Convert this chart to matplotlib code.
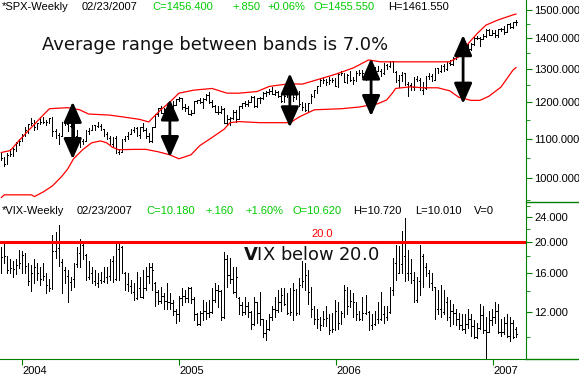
import matplotlib
matplotlib.use("Agg")
import matplotlib.pyplot as plt
import matplotlib.dates as mdates
from matplotlib.lines import Line2D
from matplotlib.ticker import FixedLocator, NullFormatter, FuncFormatter
import pandas as pd

# weekly bars, first week ending 2003-11-14, last 2007-02-23
first_week = "2003-11-14"

spx_open = [
    1059, 1050, 1036, 1058, 1061, 1074, 1088, 1095, 1108, 1122,
    1140, 1141, 1131, 1142, 1145, 1144, 1145, 1156, 1120, 1109,
    1108, 1141, 1139, 1134, 1140, 1107, 1098, 1095, 1093, 1121,
    1122, 1136, 1135, 1134, 1125, 1112, 1101, 1086, 1101, 1064,
    1065, 1099, 1107, 1113, 1123, 1128, 1110, 1131, 1122, 1108,
    1095, 1130, 1167, 1184, 1170, 1182, 1191, 1189, 1194, 1210,
    1212, 1186, 1184, 1167, 1171, 1203, 1206, 1201, 1211, 1222,
    1200, 1190, 1172, 1172, 1182, 1142, 1152, 1156, 1172, 1154,
    1190, 1198, 1196, 1201, 1216, 1191, 1212, 1212, 1228, 1229,
    1234, 1226, 1230, 1220, 1205, 1218, 1241, 1237, 1215, 1229,
    1196, 1187, 1178, 1198, 1220, 1235, 1249, 1268, 1265, 1259,
    1267, 1268, 1248, 1285, 1287, 1261, 1283, 1265, 1267, 1288,
    1289, 1287, 1282, 1307, 1302, 1295, 1295, 1289, 1312, 1311,
    1326, 1291, 1267, 1281, 1288, 1253, 1252, 1245, 1270, 1265,
    1236, 1241, 1278, 1280, 1267, 1302, 1295, 1311, 1299, 1320,
    1315, 1336, 1350, 1366, 1368, 1377, 1364, 1380, 1401, 1400,
    1397, 1409, 1427, 1410, 1418, 1410, 1431, 1430, 1423, 1449,
    1438, 1455.55,
]
spx_high = [
    1063, 1052, 1063, 1074, 1075, 1091, 1098, 1112, 1131, 1140,
    1155, 1150, 1143, 1158, 1158, 1151, 1157, 1159, 1125, 1115,
    1144, 1150, 1145, 1146, 1142, 1122, 1105, 1099, 1123, 1128,
    1137, 1138, 1146, 1140, 1127, 1119, 1108, 1104, 1108, 1073,
    1100, 1108, 1119, 1125, 1131, 1130, 1132, 1142, 1128, 1115,
    1131, 1167, 1185, 1189, 1183, 1197, 1192, 1204, 1211, 1217,
    1212, 1196, 1190, 1179, 1205, 1208, 1213, 1212, 1225, 1229,
    1207, 1193, 1189, 1191, 1184, 1163, 1159, 1178, 1178, 1191,
    1199, 1205, 1206, 1219, 1220, 1212, 1216, 1229, 1233, 1238,
    1245, 1236, 1234, 1224, 1221, 1242, 1243, 1238, 1229, 1233,
    1200, 1198, 1199, 1224, 1236, 1249, 1270, 1272, 1269, 1276,
    1274, 1274, 1287, 1295, 1289, 1286, 1294, 1275, 1294, 1297,
    1298, 1288, 1310, 1310, 1307, 1310, 1300, 1318, 1316, 1327,
    1326, 1294, 1282, 1290, 1289, 1260, 1258, 1275, 1280, 1273,
    1261, 1279, 1287, 1285, 1303, 1304, 1312, 1316, 1321, 1329,
    1340, 1353, 1366, 1372, 1390, 1382, 1384, 1403, 1407, 1404,
    1416, 1431, 1430, 1427, 1429, 1431, 1435, 1441, 1450, 1453,
    1457, 1461.55,
]
spx_low = [
    1045, 1031, 1036, 1055, 1055, 1068, 1084, 1094, 1106, 1116,
    1137, 1122, 1125, 1140, 1142, 1136, 1143, 1107, 1103, 1087,
    1108, 1136, 1121, 1131, 1107, 1095, 1079, 1085, 1093, 1112,
    1122, 1124, 1131, 1123, 1108, 1100, 1084, 1078, 1062, 1060,
    1064, 1094, 1100, 1111, 1118, 1107, 1103, 1120, 1102, 1090,
    1090, 1130, 1162, 1170, 1167, 1172, 1173, 1185, 1194, 1204,
    1180, 1175, 1167, 1163, 1170, 1197, 1198, 1184, 1206, 1199,
    1188, 1172, 1168, 1171, 1141, 1137, 1136, 1154, 1146, 1154,
    1185, 1190, 1191, 1200, 1188, 1188, 1197, 1211, 1219, 1225,
    1224, 1222, 1216, 1201, 1201, 1217, 1229, 1205, 1211, 1191,
    1177, 1176, 1176, 1198, 1215, 1227, 1248, 1258, 1252, 1255,
    1259, 1248, 1245, 1282, 1260, 1258, 1262, 1253, 1263, 1283,
    1277, 1268, 1282, 1295, 1291, 1294, 1280, 1285, 1300, 1306,
    1290, 1259, 1245, 1262, 1252, 1219, 1237, 1237, 1263, 1235,
    1224, 1239, 1270, 1262, 1266, 1289, 1290, 1295, 1296, 1312,
    1314, 1331, 1342, 1355, 1367, 1360, 1361, 1376, 1398, 1375,
    1396, 1405, 1410, 1410, 1403, 1405, 1424, 1416, 1420, 1436,
    1434, 1447,
]
spx_close = [
    1050, 1036, 1058, 1061, 1074, 1088, 1095, 1108, 1122, 1140,
    1141, 1131, 1142, 1145, 1144, 1145, 1156, 1120, 1109, 1108,
    1141, 1139, 1134, 1140, 1107, 1098, 1095, 1093, 1121, 1122,
    1136, 1135, 1134, 1125, 1112, 1101, 1086, 1101, 1064, 1065,
    1099, 1107, 1113, 1123, 1128, 1110, 1131, 1122, 1108, 1095,
    1130, 1167, 1184, 1170, 1182, 1191, 1189, 1194, 1210, 1212,
    1186, 1184, 1167, 1171, 1203, 1206, 1201, 1211, 1222, 1200,
    1190, 1172, 1172, 1182, 1142, 1152, 1156, 1172, 1154, 1190,
    1198, 1196, 1201, 1216, 1191, 1212, 1212, 1228, 1229, 1234,
    1226, 1230, 1220, 1205, 1218, 1241, 1237, 1215, 1229, 1196,
    1187, 1178, 1198, 1220, 1235, 1249, 1268, 1265, 1259, 1267,
    1268, 1248, 1285, 1287, 1261, 1283, 1265, 1267, 1288, 1289,
    1287, 1282, 1307, 1302, 1295, 1295, 1289, 1312, 1311, 1326,
    1291, 1267, 1281, 1288, 1253, 1252, 1245, 1270, 1265, 1236,
    1241, 1278, 1280, 1267, 1302, 1295, 1311, 1299, 1320, 1315,
    1336, 1350, 1366, 1368, 1377, 1364, 1380, 1401, 1400, 1397,
    1409, 1427, 1410, 1418, 1410, 1431, 1430, 1423, 1449, 1438,
    1455.55, 1456.4,
]

vix_open = [
    16.6, 17.9, 17.9, 16.3, 16.5, 16.4, 16.9, 17.1, 18.2, 16.8,
    15.0, 16.0, 16.6, 15.9, 15.3, 15.6, 14.6, 14.3, 18.7, 19.2,
    17.3, 16.3, 15.6, 14.9, 15.3, 17.0, 18.5, 19.5, 18.2, 15.5,
    16.0, 15.0, 14.8, 15.2, 15.0, 15.5, 15.6, 17.4, 15.3, 19.0,
    19.3, 16.0, 14.7, 14.5, 13.9, 13.3, 14.3, 13.4, 14.3, 15.6,
    16.6, 14.8, 13.9, 13.0, 13.5, 13.0, 12.9, 12.8, 12.1, 11.8,
    13.3, 13.5, 13.3, 14.3, 13.2, 11.8, 11.0, 11.9, 12.1, 11.9,
    12.0, 13.1, 14.1, 14.0, 11.6, 17.7, 15.7, 15.3, 13.9, 13.3,
    12.6, 12.0, 12.5, 12.0, 11.0, 12.9, 11.9, 11.4, 10.3, 10.6,
    11.6, 12.3, 12.2, 12.9, 13.6, 12.7, 11.9, 12.0, 14.1, 11.9,
    14.6, 15.0, 15.7, 13.9, 12.3, 11.4, 11.4, 10.9, 11.4, 11.5,
    10.5, 10.6, 12.1, 11.1, 11.9, 14.1, 12.5, 13.0, 12.9, 11.8,
    11.4, 11.9, 12.0, 10.9, 11.0, 11.4, 11.4, 11.8, 11.6, 12.0,
    14.1, 17.2, 16.0, 17.0, 18.0, 16.0, 15.9, 15.2, 13.1, 15.0,
    18.0, 16.6, 15.9, 14.8, 14.4, 12.3, 12.3, 12.0, 12.9, 11.6,
    12.1, 11.9, 11.4, 10.9, 10.6, 11.0, 11.4, 10.8, 10.0, 10.7,
    11.7, 10.5, 10.4, 11.3, 11.6, 12.1, 10.4, 10.4, 11.1, 10.1,
    11.1, 10.62,
]
vix_high = [
    19.3, 19.7, 18.0, 17.6, 17.4, 17.6, 18.9, 18.7, 18.4, 17.2,
    16.9, 17.6, 17.2, 16.7, 17.2, 15.9, 15.3, 21.0, 21.5, 22.6,
    17.6, 16.7, 16.3, 15.5, 17.2, 19.3, 20.4, 19.9, 18.3, 17.4,
    16.7, 16.3, 15.9, 16.1, 16.7, 16.7, 17.6, 18.0, 19.9, 20.1,
    19.4, 16.1, 15.9, 15.1, 14.8, 16.1, 15.5, 16.3, 16.7, 17.2,
    17.2, 14.9, 14.1, 14.4, 13.8, 14.8, 13.8, 13.1, 12.3, 13.5,
    14.3, 14.1, 14.4, 14.4, 13.4, 11.9, 12.1, 13.1, 12.9, 13.1,
    14.3, 14.8, 14.6, 14.1, 18.6, 18.2, 17.8, 16.7, 16.7, 13.4,
    12.9, 13.4, 12.9, 12.1, 13.4, 12.9, 13.9, 11.4, 11.3, 11.8,
    12.5, 13.4, 14.1, 14.3, 14.3, 13.8, 14.3, 14.8, 14.2, 15.4,
    17.4, 17.2, 16.3, 14.4, 12.5, 12.3, 11.6, 12.1, 12.5, 11.8,
    11.9, 13.1, 12.9, 12.1, 14.6, 14.4, 14.1, 13.8, 12.9, 12.1,
    13.4, 13.6, 12.1, 11.8, 12.1, 12.9, 13.9, 12.5, 12.5, 14.4,
    17.8, 19.6, 19.4, 21.6, 23.8, 18.9, 17.6, 16.1, 15.5, 19.6,
    18.3, 17.2, 16.3, 16.0, 14.4, 14.1, 14.6, 14.1, 13.4, 13.1,
    12.7, 12.3, 11.9, 11.8, 11.8, 12.3, 11.8, 11.3, 11.1, 12.7,
    12.5, 11.6, 12.1, 12.3, 12.9, 12.7, 11.4, 11.6, 11.8, 11.6,
    11.3, 10.72,
]
vix_low = [
    16.0, 17.2, 16.0, 15.9, 15.5, 15.8, 16.5, 16.0, 15.9, 14.6,
    14.0, 14.8, 15.1, 14.6, 15.1, 13.8, 14.0, 14.2, 17.8, 16.8,
    13.8, 14.8, 12.9, 14.1, 14.4, 16.7, 16.7, 17.6, 15.1, 15.3,
    14.8, 14.6, 14.4, 14.8, 14.9, 14.8, 15.1, 14.9, 15.2, 15.1,
    15.9, 14.1, 14.0, 13.8, 13.1, 13.2, 13.4, 13.3, 14.1, 14.8,
    14.1, 12.5, 12.7, 12.8, 12.3, 12.3, 12.3, 11.7, 11.1, 11.2,
    12.6, 12.9, 12.9, 12.8, 11.3, 10.9, 10.9, 11.3, 11.4, 11.6,
    11.9, 12.9, 12.4, 11.3, 11.5, 14.4, 14.8, 13.8, 13.4, 11.8,
    11.7, 11.8, 11.6, 10.6, 10.9, 11.1, 10.9, 10.0, 9.8, 10.5,
    11.3, 11.6, 12.0, 12.1, 12.6, 11.8, 11.7, 11.3, 11.7, 11.8,
    14.4, 14.1, 12.7, 11.6, 11.0, 10.7, 10.5, 10.8, 10.8, 10.2,
    10.4, 10.5, 10.6, 11.0, 11.6, 11.8, 12.4, 11.6, 11.3, 11.3,
    11.3, 11.8, 10.5, 10.6, 10.9, 11.1, 11.3, 11.1, 11.3, 11.9,
    13.6, 15.2, 15.9, 15.9, 15.0, 15.1, 14.8, 12.9, 12.9, 13.6,
    14.4, 15.6, 14.4, 14.1, 11.4, 11.8, 11.6, 11.8, 11.3, 10.8,
    11.0, 10.9, 10.6, 10.5, 10.3, 10.7, 10.1, 9.9, 9.9, 10.6,
    10.3, 8.3, 10.4, 10.9, 11.1, 10.3, 10.1, 10.2, 10.0, 9.7,
    9.9, 10.01,
]
vix_close = [
    17.9, 18.0, 16.3, 16.5, 16.4, 16.9, 17.1, 18.2, 16.8, 15.0,
    16.0, 16.6, 15.9, 15.3, 15.6, 14.6, 14.3, 18.7, 19.2, 17.3,
    16.3, 15.6, 14.9, 15.3, 17.0, 18.5, 19.5, 18.2, 15.5, 16.0,
    15.0, 14.8, 15.2, 15.0, 15.5, 15.6, 17.4, 15.3, 19.0, 19.3,
    16.0, 14.7, 14.5, 13.9, 13.3, 14.3, 13.4, 14.3, 15.6, 16.6,
    16.3, 13.9, 13.0, 13.5, 13.0, 12.9, 12.8, 12.1, 11.8, 13.3,
    13.5, 13.3, 14.3, 13.2, 11.8, 11.0, 11.9, 12.1, 11.9, 12.0,
    13.1, 14.1, 14.0, 11.6, 17.7, 15.7, 15.3, 13.9, 15.5, 12.6,
    12.0, 12.5, 12.0, 11.0, 12.9, 11.9, 11.4, 10.3, 10.6, 11.6,
    12.3, 12.2, 12.9, 13.6, 12.7, 11.9, 12.0, 14.1, 11.9, 14.6,
    15.0, 15.7, 13.9, 12.3, 11.4, 11.4, 10.9, 11.4, 11.5, 10.5,
    10.6, 12.1, 11.1, 11.9, 14.1, 12.5, 13.0, 12.9, 11.8, 11.4,
    11.9, 12.0, 10.9, 11.0, 11.4, 11.4, 11.8, 11.6, 11.6, 14.1,
    17.2, 16.0, 17.0, 18.0, 16.0, 15.9, 15.2, 13.1, 15.0, 18.0,
    16.6, 15.9, 14.8, 14.4, 12.3, 12.3, 12.0, 12.9, 11.6, 12.1,
    11.9, 11.4, 10.9, 10.6, 11.0, 11.4, 10.8, 10.0, 10.7, 11.7,
    10.5, 10.4, 11.3, 11.6, 12.1, 10.4, 10.4, 11.1, 10.1, 11.1,
    10.0, 10.18,
]

# price bands, given at bar index positions
upper_idx = [0, 3, 6, 10, 14, 16, 22, 26, 29, 36, 42, 46, 49, 50, 53, 56, 59, 64,
             70, 75, 79, 85, 89, 93, 96, 100, 103, 111, 117, 122, 126, 139, 149,
             152, 155, 158, 161, 165, 170, 171]
upper_band = [1064, 1069, 1096, 1130, 1165, 1182, 1185, 1179, 1167, 1164, 1157,
              1152, 1145, 1154, 1179, 1201, 1227, 1236, 1241, 1227, 1227, 1232,
              1247, 1252, 1255, 1254, 1262, 1284, 1304, 1329, 1323, 1323, 1323,
              1339, 1381, 1415, 1445, 1463, 1481, 1484]
lower_idx = [0, 1, 10, 11, 14, 17, 20, 22, 24, 27, 30, 33, 35, 37, 39, 44, 48, 52,
             56, 59, 63, 66, 70, 74, 76, 79, 86, 90, 96, 99, 104, 113, 119, 125,
             128, 130, 131, 136, 140, 145, 149, 152, 156, 159, 162, 166, 170, 171]
lower_band = [955, 961, 961, 957, 968, 982, 1004, 1022, 1048, 1071, 1089, 1094,
              1089, 1077, 1071, 1072, 1072, 1066, 1058, 1048, 1058, 1082, 1103,
              1125, 1143, 1146, 1143, 1143, 1143, 1159, 1179, 1182, 1187, 1196,
              1207, 1228, 1241, 1246, 1243, 1243, 1234, 1215, 1206, 1206, 1218,
              1245, 1297, 1305]

arrow_dates = ["2004-04-28", "2004-12-10", "2005-09-15", "2006-03-23", "2006-10-23"]
arrow_top = [1202, 1209, 1287, 1334, 1411]
arrow_bottom = [1047, 1052, 1130, 1161, 1196]

vix_level = 20.0

W, H = 579, 376
GREEN = "#008000"
LIME = "#00cc00"
SMALL = "Liberation Sans"


def fx(px):
    return px / W


def fy(py):
    return 1 - py / H


def draw_bars(ax, dates, o, h, l, c):
    x = mdates.date2num(dates)
    kw = dict(colors="black", linewidth=0.72, antialiased=False)
    ax.vlines(x, l, h, **kw)
    ax.hlines(o, x - 1.7, x, **kw)
    ax.hlines(c, x, x + 1.7, **kw)


def style_axis(ax, majors, minors, show_bottom):
    ax.set_yscale("log")
    for side in ["top", "left"]:
        ax.spines[side].set_visible(False)
    ax.spines["right"].set_color(GREEN)
    ax.spines["bottom"].set_visible(show_bottom)
    ax.spines["bottom"].set_color(GREEN)
    ax.yaxis.tick_right()
    ax.yaxis.set_major_locator(FixedLocator(majors))
    ax.yaxis.set_minor_locator(FixedLocator(minors))
    ax.yaxis.set_major_formatter(FuncFormatter(lambda v, p: f"{v:.3f}"))
    ax.yaxis.set_minor_formatter(NullFormatter())
    ax.tick_params(axis="y", which="both", direction="out", colors=GREEN,
                   labelcolor="black", labelsize=8, pad=2)
    ax.tick_params(axis="y", which="major", length=4)
    ax.tick_params(axis="y", which="minor", length=3)
    for lab in ax.get_yticklabels():
        lab.set_family(SMALL)


dates = pd.date_range(first_week, periods=len(spx_close), freq="7D")

fig = plt.figure(figsize=(W / 100, H / 100), dpi=100)
ax1 = fig.add_axes([0, fy(202), fx(526), 202 / H])
ax2 = fig.add_axes([0, fy(359), fx(526), (359 - 202) / H], sharex=ax1)

# SPX panel
draw_bars(ax1, dates, spx_open, spx_high, spx_low, spx_close)
ax1.plot(dates[upper_idx], upper_band, color="red", lw=0.9)
ax1.plot(dates[lower_idx], lower_band, color="red", lw=0.9)
for d, top, bot in zip(arrow_dates, arrow_top, arrow_bottom):
    xd = pd.Timestamp(d)
    ax1.annotate("", xy=(xd, top), xytext=(xd, bot),
                 arrowprops=dict(arrowstyle="<|-|>,head_length=1.25,head_width=0.55",
                                 color="black", lw=2, shrinkA=0, shrinkB=0,
                                 mutation_scale=10))
style_axis(ax1, [1000, 1100, 1200, 1300, 1400, 1500],
           [950, 1050, 1150, 1250, 1350, 1450], False)
ax1.set_ylim(944.6, 1535)
ax1.tick_params(axis="x", which="both", bottom=False, labelbottom=False)

# VIX panel
draw_bars(ax2, dates, vix_open, vix_high, vix_low, vix_close)
ax2.axhline(vix_level, color="red", lw=2.2)
style_axis(ax2, [12, 16, 20, 24], [10, 14, 18, 22, 26], True)
ax2.set_ylim(8.51, 26.78)

ax2.set_xlim(pd.Timestamp("2003-11-10 22:00"), pd.Timestamp("2007-03-18 07:00"))
ax2.xaxis.set_major_locator(mdates.YearLocator())
ax2.xaxis.set_major_formatter(mdates.DateFormatter("%Y"))
ax2.xaxis.set_minor_locator(FixedLocator([]))
ax2.tick_params(axis="x", which="major", direction="out", length=4, colors=GREEN,
                labelcolor="black", labelsize=8, pad=1)
for lab in ax2.get_xticklabels():
    lab.set_family(SMALL)
    lab.set_horizontalalignment("left")

# separators to the right of the price scale
fig.add_artist(Line2D([fx(526), 1], [fy(202), fy(202)], color=GREEN, lw=1))
fig.add_artist(Line2D([fx(526), 1], [fy(359), fy(359)], color=GREEN, lw=1))

# header lines
spx_head = [("*SPX-Weekly", 2, "black"), ("02/23/2007", 82, "black"),
            ("C=1456.400", 152, LIME), ("+.850", 232, LIME), ("+0.06%", 267, LIME),
            ("O=1455.550", 314, LIME), ("H=1461.550", 388, "black")]
for s, px, col in spx_head:
    fig.text(fx(px), fy(10.5), s, color=col, fontsize=8, family=SMALL, va="baseline")

vix_head = [("*VIX-Weekly", 2, "black"), ("02/23/2007", 77, "black"),
            ("C=10.180", 146, LIME), ("+.160", 205, LIME), ("+1.60%", 245, LIME),
            ("O=10.620", 293, LIME), ("H=10.720", 353, "black"),
            ("L=10.010", 415, "black"), ("V=0", 474, "black")]
for s, px, col in vix_head:
    fig.text(fx(px), fy(214.5), s, color=col, fontsize=8, family=SMALL, va="baseline")

fig.text(fx(311), fy(236.5), "20.0", color="red", fontsize=8, family=SMALL,
         va="baseline")

fig.text(fx(42), fy(50), "Average range between bands is 7.0%", color="#111111",
         fontsize=12.9, family="DejaVu Sans", va="baseline")
fig.text(fx(243), fy(260), r"$\mathbf{V}$IX below 20.0", color="#111111",
         fontsize=12.9, family="DejaVu Sans", va="baseline")

fig.savefig("out.png", dpi=100)
plt.close(fig)
